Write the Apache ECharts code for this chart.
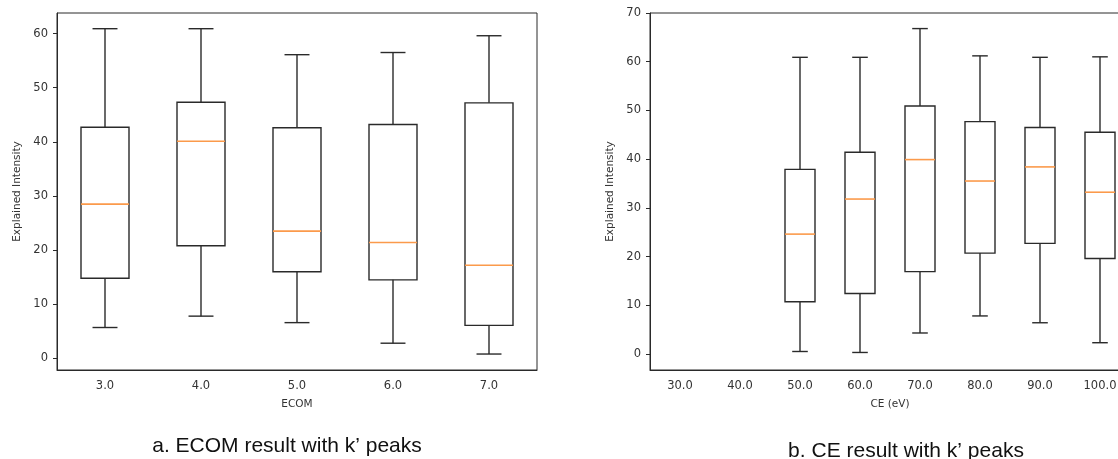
<!DOCTYPE html>
<html>
<head>
<meta charset="utf-8">
<script src="https://cdn.jsdelivr.net/npm/echarts@6/dist/echarts.min.js"></script>
<style>
  html, body { margin: 0; padding: 0; background: #fff; }
  #chart { width: 1118px; height: 459px; }
</style>
</head>
<body>
<div id="chart"></div>
<script>
// Panel a: ECOM box statistics
const ecomCategories = ['3.0', '4.0', '5.0', '6.0', '7.0'];
const ecomLow    = [5.7, 7.8, 6.6, 2.8, 0.8];
const ecomQ1     = [14.8, 20.8, 16.0, 14.5, 6.1];
const ecomMedian = [28.5, 40.1, 23.5, 21.4, 17.2];
const ecomQ3     = [42.7, 47.3, 42.6, 43.2, 47.2];
const ecomHigh   = [60.9, 60.9, 56.1, 56.5, 59.6];

// Panel b: CE box statistics (no data at 30 and 40 eV)
const ceCategories = ['30.0', '40.0', '50.0', '60.0', '70.0', '80.0', '90.0', '100.0'];
const ceLow    = [null, null, 0.5, 0.3, 4.3, 7.8, 6.4, 2.3];
const ceQ1     = [null, null, 10.7, 12.4, 16.9, 20.7, 22.7, 19.6];
const ceMedian = [null, null, 24.6, 31.8, 39.9, 35.5, 38.4, 33.2];
const ceQ3     = [null, null, 37.9, 41.4, 50.9, 47.7, 46.5, 45.5];
const ceHigh   = [null, null, 60.9, 60.9, 66.8, 61.2, 60.9, 61.0];

const ecomTicks = [0, 10, 20, 30, 40, 50, 60];
const ceTicks = [0, 10, 20, 30, 40, 50, 60, 70];

function buildRows(low, q1, med, q3, high) {
  const rows = [];
  low.forEach((v, i) => {
    if (v !== null) rows.push([i, v, q1[i], med[i], q3[i], high[i]]);
  });
  return rows;
}

const EDGE = '#2a2a2a';
const MEDIAN = '#fb9a4b';
const LW = 1.4;

// Matplotlib-style box: box width = half a band, caps = quarter of a band
function renderBox(params, api) {
  const idx = api.value(0);
  const band = api.size([1, 0])[0];
  const half = band * 0.25;
  const capHalf = band * 0.13;
  const c = api.coord([idx, 0])[0];
  const yLow = api.coord([idx, api.value(1)])[1];
  const yQ1 = api.coord([idx, api.value(2)])[1];
  const yMed = api.coord([idx, api.value(3)])[1];
  const yQ3 = api.coord([idx, api.value(4)])[1];
  const yHigh = api.coord([idx, api.value(5)])[1];
  const s = { stroke: EDGE, lineWidth: LW, fill: null };
  return {
    type: 'group',
    children: [
      { type: 'line', shape: { x1: c - capHalf, y1: yLow, x2: c + capHalf, y2: yLow }, style: s },
      { type: 'line', shape: { x1: c, y1: yLow, x2: c, y2: yQ1 }, style: s },
      { type: 'rect', shape: { x: c - half, y: yQ3, width: 2 * half, height: yQ1 - yQ3 }, style: s },
      { type: 'line', shape: { x1: c, y1: yQ3, x2: c, y2: yHigh }, style: s },
      { type: 'line', shape: { x1: c - capHalf, y1: yHigh, x2: c + capHalf, y2: yHigh }, style: s },
      { type: 'line', shape: { x1: c - half, y1: yMed, x2: c + half, y2: yMed }, style: { stroke: MEDIAN, lineWidth: 1.6 } }
    ]
  };
}

const tickFont = { color: '#333', fontSize: 11.5, fontFamily: 'DejaVu Sans' };

function xAxisFor(gridIndex, cats, name) {
  return {
    type: 'category', gridIndex, data: cats, boundaryGap: true,
    name, nameLocation: 'middle', nameGap: 29,
    nameTextStyle: { color: '#333', fontSize: 10.5, fontFamily: 'DejaVu Sans' },
    axisLine: { onZero: false, lineStyle: { color: EDGE, width: 1 } },
    axisTick: { alignWithLabel: true, length: 4, lineStyle: { color: EDGE } },
    axisLabel: Object.assign({ margin: 10 }, tickFont),
    splitLine: { show: false }
  };
}

function yAxisFor(gridIndex, min, max, ticks) {
  return {
    type: 'value', gridIndex, min, max,
    name: 'Explained Intensity', nameLocation: 'middle', nameGap: 34,
    nameTextStyle: { color: '#333', fontSize: 10.5, fontFamily: 'DejaVu Sans' },
    axisLine: { show: true, onZero: false, lineStyle: { color: EDGE, width: 1 } },
    axisTick: { show: true, length: 4, lineStyle: { color: EDGE }, customValues: ticks },
    axisLabel: Object.assign({ margin: 9, customValues: ticks }, tickFont),
    splitLine: { show: false }
  };
}

const chart = echarts.init(document.getElementById('chart'), null, { renderer: 'canvas' });
chart.setOption({
  animation: false,
  backgroundColor: '#fff',
  grid: [
    { left: 57, top: 13, width: 480, height: 357, show: true, borderColor: EDGE, borderWidth: 1,
      outerBoundsMode: 'none' },
    { left: 650, top: 13, width: 480, height: 357, show: true, borderColor: EDGE, borderWidth: 1,
      outerBoundsMode: 'none' }
  ],
  xAxis: [
    xAxisFor(0, ecomCategories, 'ECOM'),
    xAxisFor(1, ceCategories, 'CE (eV)')
  ],
  yAxis: [
    yAxisFor(0, -2.15, 63.8, ecomTicks),
    yAxisFor(1, -3.3, 70, ceTicks)
  ],
  series: [
    {
      type: 'custom', xAxisIndex: 0, yAxisIndex: 0,
      encode: { x: 0, y: [1, 2, 3, 4, 5] },
      renderItem: renderBox,
      data: buildRows(ecomLow, ecomQ1, ecomMedian, ecomQ3, ecomHigh)
    },
    {
      type: 'custom', xAxisIndex: 1, yAxisIndex: 1,
      encode: { x: 0, y: [1, 2, 3, 4, 5] },
      renderItem: renderBox,
      data: buildRows(ceLow, ceQ1, ceMedian, ceQ3, ceHigh)
    }
  ],
  graphic: [
    {
      type: 'text', x: 287, y: 446,
      style: { text: 'a. ECOM result with k’ peaks', fill: '#111', fontSize: 21,
               fontFamily: 'Liberation Sans', align: 'center', verticalAlign: 'middle' }
    },
    {
      type: 'text', x: 906, y: 451,
      style: { text: 'b. CE result with k’ peaks', fill: '#111', fontSize: 21,
               fontFamily: 'Liberation Sans', align: 'center', verticalAlign: 'middle' }
    }
  ]
});
</script>
</body>
</html>
